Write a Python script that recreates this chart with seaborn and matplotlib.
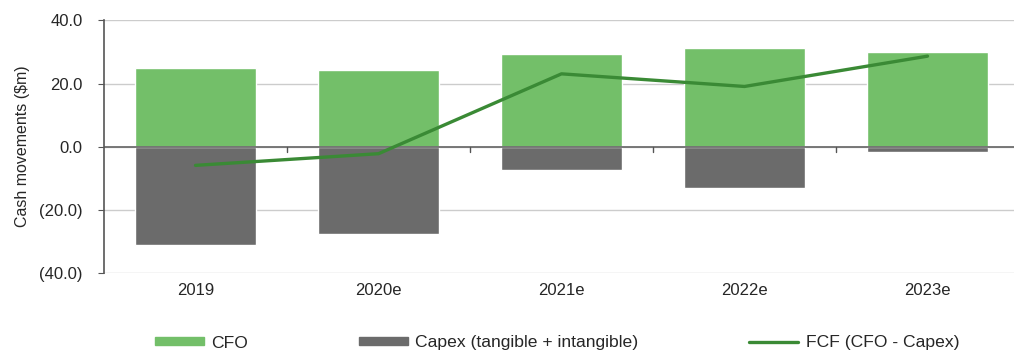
import pandas as pd
import seaborn as sns
import matplotlib.pyplot as plt
from matplotlib.patches import Patch
from matplotlib.lines import Line2D
from matplotlib.ticker import FuncFormatter

years = ['2019', '2020e', '2021e', '2022e', '2023e']
cfo = [24.9, 24.3, 29.3, 31.3, 30.0]
capex = [-31.2, -27.5, -7.4, -13.0, -1.7]
fcf = [-5.9, -2.2, 23.1, 19.1, 28.7]

green = '#73bf69'
grey = '#6b6b6b'
dark_green = '#3a8a35'

sns.set_style('white')
plt.rcParams['font.family'] = ['Liberation Sans Narrow', 'Liberation Sans', 'DejaVu Sans']

df = pd.DataFrame({'year': years, 'CFO': cfo, 'Capex': capex, 'FCF': fcf})

fig = plt.figure(figsize=(10.14, 3.59), dpi=100)
# plot area runs slightly past the right edge, like the original
ax = fig.add_axes([104 / 1014, 1 - 273 / 359, 915 / 1014, (273 - 20.5) / 359])

sns.barplot(data=df, x='year', y='CFO', order=years, color=green, width=0.66,
            saturation=1, ax=ax, zorder=2)
sns.barplot(data=df, x='year', y='Capex', order=years, color=grey, width=0.66,
            saturation=1, ax=ax, zorder=2)
sns.lineplot(data=df, x='year', y='FCF', sort=False, color=dark_green, lw=2.4,
             ax=ax, zorder=3)

ax.set_ylim(-40, 40)
ax.set_yticks([-40, -20, 0, 20, 40])
ax.yaxis.set_major_formatter(FuncFormatter(
    lambda v, p: f'({abs(v):.1f})' if v < 0 else f'{v:.1f}'))
ax.set_xlim(-0.5, 4.5)
ax.grid(axis='y', color='#cccccc', lw=1, zorder=0)
ax.axhline(0, color='#6e6e6e', lw=1.3, zorder=2.5)

for s in ['top', 'right', 'bottom']:
    ax.spines[s].set_visible(False)
ax.spines['left'].set_color('#555555')
ax.spines['left'].set_linewidth(1.2)

ax.tick_params(axis='y', left=True, length=4.5, color='#555555', labelsize=12, pad=11)
ax.tick_params(axis='x', bottom=False, labelsize=12, pad=4)
# small ticks between categories sitting on the zero line
for b in [0.5, 1.5, 2.5, 3.5]:
    ax.plot([b, b], [0, -1.6], color='#555555', lw=1, zorder=2.6)

ax.set_xlabel('')
ax.set_ylabel('Cash movements ($m)', fontsize=11.5)
ax.yaxis.set_label_coords(-74 / 915, (273 - 146) / (273 - 20.5))

handles = [Patch(color=green), Patch(color=grey), Line2D([], [], color=dark_green, lw=2.4)]
labels = ['CFO', 'Capex (tangible + intangible)', 'FCF (CFO - Capex)']
fig.legend(handles, labels, loc='center', bbox_to_anchor=(557 / 1014, 1 - 343 / 359),
           ncol=3, frameon=False, fontsize=12.6, handlelength=2.8, handleheight=0.3,
           columnspacing=6.3, handletextpad=0.45)

fig.savefig('out.png', dpi=100)
